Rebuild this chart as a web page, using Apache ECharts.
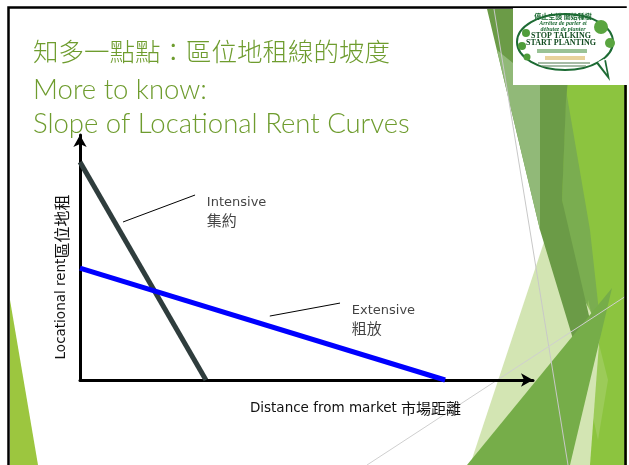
<!DOCTYPE html>
<html>
<head>
<meta charset="utf-8">
<script src="https://cdn.jsdelivr.net/npm/echarts@6/dist/echarts.min.js"></script>
<style>
  html, body { margin: 0; padding: 0; background: #fff; }
  #chart { width: 629px; height: 465px; }
</style>
</head>
<body>
<div id="chart"></div>
<script>
// rent curves, x = distance from market, y = locational rent (0-100 scale)
const intensive = [[0, 89], [27.8, 0]]
const extensive = [[0, 45.7], [80.6, 0]]
const intensivePointer = [[9.5, 64.5], [25.4, 75.5]]
const extensivePointer = [[41.9, 26.1], [57.4, 31.4]]
const curveLabels = [
  { name: 'Intensive', zh: '集約', value: [28, 68.8] },
  { name: 'Extensive', zh: '粗放', value: [60, 24.7] },
]
const titleLines = ['知多一點點：區位地租線的坡度', 'More to know:', 'Slope of Locational Rent Curves']
const xName = ['Distance from market ', '市場距離']
const yName = ['Locational rent', '區位地租']

const green = '#6e9c2e'
const latin = 'DejaVu Sans, sans-serif'
const cjk = 'Noto Sans CJK TC, sans-serif'

const chart = echarts.init(document.getElementById('chart'))

function poly(points, fill, opacity) {
  return { type: 'polygon', shape: { points }, style: { fill, opacity: opacity ?? 1 }, silent: true }
}
function seg(x1, y1, x2, y2, stroke, width) {
  return { type: 'line', shape: { x1, y1, x2, y2 }, style: { stroke, lineWidth: width }, silent: true }
}
function txt(x, y, text, font, fill) {
  return { type: 'text', x, y, style: { text, font, fill, align: 'center', verticalAlign: 'middle' }, silent: true }
}

// slide decoration (green facets on the right, logo, frame)
const decor = [
  poly([[560, 9], [627, 9], [627, 465], [560, 465]], '#8cc43f'),
  poly([[566, 90], [590, 230], [601, 330], [583, 372], [562, 200]], '#7aad50'),
  poly([[588, 300], [608, 380], [598, 440], [583, 372]], '#a6d06b', 0.6),
  poly([[548, 230], [600, 330], [590, 465], [470, 465]], '#d3e5b3'),
  poly([[487, 9], [575, 9], [566, 100], [562, 200], [590, 320], [583, 372], [540, 230]], '#6b9b47'),
  poly([[497, 50], [540, 85], [540, 230]], '#91b978'),
  poly([[467, 465], [612, 288], [570, 465]], '#76ad49'),
  seg(494, 9, 568, 465, '#c8c8c8', 1),
  seg(367, 465, 626, 296, '#cfcfcf', 1),
  poly([[10, 300], [10, 465], [38, 465]], '#9cc63f'),
  {
    type: 'rect', shape: { x: 8.5, y: 7.5, width: 617, height: 480 },
    style: { fill: 'none', stroke: '#000', lineWidth: 2.5 }, silent: true,
  },
  // logo
  { type: 'rect', shape: { x: 513, y: 8, width: 114, height: 77 }, style: { fill: '#fff' }, silent: true },
  { type: 'ellipse', shape: { cx: 565, cy: 42, rx: 48, ry: 28 }, style: { fill: '#fff', stroke: '#1d6b34', lineWidth: 2 }, silent: true },
  poly([[596, 63], [610, 81], [606, 60]], '#1d6b34'),
  poly([[598, 62], [607, 74], [604, 59]], '#ffffff'),
  { type: 'circle', shape: { cx: 526, cy: 33, r: 4 }, style: { fill: '#4f9d3a' }, silent: true },
  { type: 'circle', shape: { cx: 522, cy: 46, r: 4 }, style: { fill: '#4f9d3a' }, silent: true },
  { type: 'circle', shape: { cx: 527, cy: 57, r: 3.5 }, style: { fill: '#4f9d3a' }, silent: true },
  { type: 'circle', shape: { cx: 601, cy: 27, r: 7 }, style: { fill: '#5aa540' }, silent: true },
  { type: 'circle', shape: { cx: 610, cy: 43, r: 5 }, style: { fill: '#5aa540' }, silent: true },
  txt(563, 16, '停止空談 開始種樹', 'bold 7px Noto Sans CJK TC', '#1d6b34'),
  txt(563, 23, 'Arrêtez de parler et', 'italic bold 6px Liberation Serif', '#1d6b34'),
  txt(563, 29, 'débutez de planter', 'italic bold 6px Liberation Serif', '#1d6b34'),
  txt(561, 36, 'STOP TALKING', 'bold 8px Liberation Serif', '#134d22'),
  txt(561, 43, 'START PLANTING', 'bold 8px Liberation Serif', '#134d22'),
  { type: 'rect', shape: { x: 537, y: 49, width: 50, height: 4 }, style: { fill: '#6fa86a', opacity: 0.7 }, silent: true },
  { type: 'rect', shape: { x: 545, y: 56, width: 40, height: 4 }, style: { fill: '#d9b45a', opacity: 0.6 }, silent: true },
  { type: 'rect', shape: { x: 538, y: 62, width: 52, height: 2 }, style: { fill: '#6a8f6a', opacity: 0.6 }, silent: true },
  { type: 'rect', shape: { x: 542, y: 65, width: 44, height: 2 }, style: { fill: '#6a8f6a', opacity: 0.6 }, silent: true },
]

const axisCommon = {
  type: 'value', min: 0, max: 100,
  axisLine: { show: true, symbol: ['none', 'arrow'], symbolSize: [10, 12], lineStyle: { color: '#000', width: 3 } },
  axisTick: { show: false }, axisLabel: { show: false }, splitLine: { show: false },
}
const nameRich = {
  en: { fontFamily: latin, fontSize: 13.5, color: '#111' },
  zh: { fontFamily: cjk, fontSize: 15, color: '#111' },
  zhBig: { fontFamily: cjk, fontSize: 16, color: '#111' },
}

chart.setOption({
  animation: false,
  backgroundColor: '#fff',
  title: titleLines.map((text, i) => ({
    text,
    left: 33,
    top: [39, 76, 110][i],
    padding: 0,
    textStyle: {
      fontFamily: i === 0 ? 'Noto Sans CJK TC' : 'Lato, Open Sans, sans-serif',
      fontWeight: 300,
      fontSize: i === 0 ? 25.5 : 27.5,
      color: green,
    },
  })),
  graphic: { elements: decor },
  grid: { left: 80, right: 96, top: 135, bottom: 85 },
  xAxis: {
    ...axisCommon,
    name: `{en|${xName[0]}}{zh|${xName[1]}}`, nameLocation: 'middle', nameGap: 21,
    nameTextStyle: { rich: nameRich, padding: [0, 0, 0, 98] },
  },
  yAxis: {
    ...axisCommon,
    name: `{en|${yName[0]}}{zhBig|${yName[1]}}`, nameLocation: 'middle', nameGap: 10, nameRotate: 90,
    nameTextStyle: { rich: nameRich, padding: [0, 39, 0, 0] },
  },
  series: [
    {
      type: 'line', data: intensive, showSymbol: false, clip: false, z: 3,
      lineStyle: { color: '#2f3d3d', width: 5 },
    },
    {
      type: 'line', data: extensive, showSymbol: false, clip: false, z: 3,
      lineStyle: { color: '#0000ff', width: 5 },
    },
    {
      type: 'line', data: intensivePointer, showSymbol: false,
      lineStyle: { color: '#000', width: 1 },
    },
    {
      type: 'line', data: extensivePointer, showSymbol: false,
      lineStyle: { color: '#000', width: 1 },
    },
    {
      type: 'scatter', data: curveLabels, symbolSize: 0,
      label: {
        show: true, position: 'right', distance: 0,
        formatter: (p) => `{en|${p.name}}\n{zh|${p.data.zh}}`,
        rich: {
          en: { fontFamily: latin, fontSize: 13, lineHeight: 18, color: '#111' },
          zh: { fontFamily: cjk, fontSize: 15, lineHeight: 18, color: '#111' },
        },
      },
    },
  ],
})
</script>
</body>
</html>
